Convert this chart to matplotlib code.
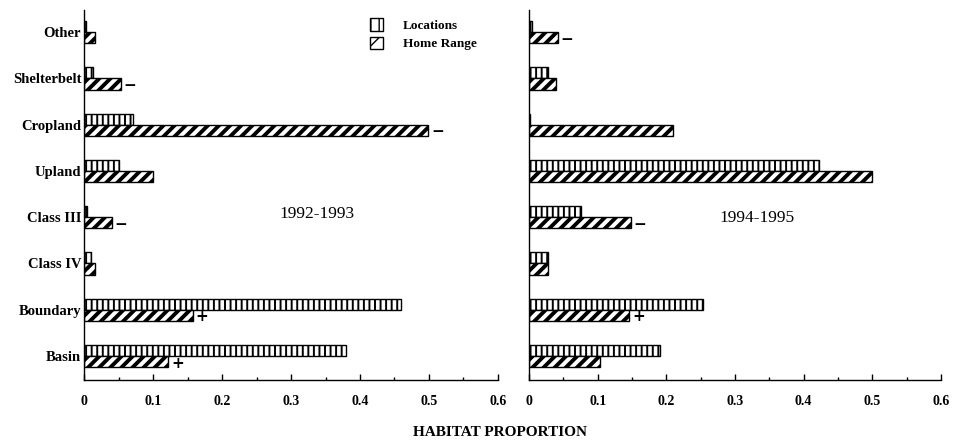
import matplotlib
matplotlib.use("Agg")
import matplotlib.pyplot as plt
from matplotlib.ticker import MultipleLocator, FixedLocator
from matplotlib.patches import Patch

categories = ["Other", "Shelterbelt", "Cropland", "Upland", "Class III", "Class IV", "Boundary", "Basin"]
loc_9293 = [0.003, 0.013, 0.071, 0.050, 0.005, 0.010, 0.460, 0.380]
hr_9293 = [0.016, 0.053, 0.499, 0.100, 0.040, 0.016, 0.158, 0.122]
loc_9495 = [0.005, 0.027, 0.002, 0.423, 0.075, 0.027, 0.254, 0.191]
hr_9495 = [0.042, 0.040, 0.209, 0.499, 0.148, 0.027, 0.146, 0.104]
sig_9293 = ["", "\u2212", "\u2212", "", "\u2212", "", "+", "+"]
sig_9495 = ["\u2212", "", "", "", "\u2212", "", "+", ""]
xticks = [0, 0.1, 0.2, 0.3, 0.4, 0.5, 0.6]
xticklabels = ["0", "0.1", "0.2", "0.3", "0.4", "0.5", "0.6"]
periods = ["1992-1993", "1994-1995"]
series_names = ["Locations", "Home Range"]

plt.rcParams["font.family"] = ["Liberation Serif", "DejaVu Serif"]
plt.rcParams["hatch.color"] = "black"

fig = plt.figure(figsize=(9.57, 4.43), dpi=100)
bottom = 1 - 380 / 443
height = (380 - 10) / 443
ax1 = fig.add_axes([84 / 957, bottom, 414 / 957, height])
ax2 = fig.add_axes([529 / 957, bottom, 412 / 957, height])

n = len(categories)
ypos = [n - 1 - i for i in range(n)]
bh = 0.24
LOC_HATCH = "|||"
HR_HATCH = "///"

def draw(ax, loc, hr, sig, label, lx, ly, show_y):
    with plt.rc_context({"hatch.linewidth": 1.4}):
        ax.barh(ypos, loc, height=bh, align="edge", color="white",
                edgecolor="black", linewidth=1.0, hatch=LOC_HATCH)
    with plt.rc_context({"hatch.linewidth": 2.8}):
        ax.barh([y - bh for y in ypos], hr, height=bh, align="edge", color="white",
                edgecolor="black", linewidth=1.0, hatch=HR_HATCH)
    for y, v, s in zip(ypos, hr, sig):
        if s:
            ax.annotate(s, xy=(v, y - bh / 2), xytext=(2, 0),
                        textcoords="offset points", ha="left", va="center_baseline",
                        fontsize=11, fontweight="bold", family="DejaVu Sans", zorder=5)
    ax.set_xlim(0, 0.6)
    ax.set_ylim(-0.52, 7.48)
    ax.xaxis.set_major_locator(FixedLocator(xticks))
    ax.set_xticklabels(xticklabels, fontsize=10, fontweight="bold")
    ax.xaxis.set_minor_locator(MultipleLocator(0.05))
    ax.tick_params(axis="x", which="major", direction="in", length=4, width=1, pad=11)
    ax.tick_params(axis="x", which="minor", direction="in", length=2.5, width=1)
    ax.set_yticks(ypos)
    if show_y:
        ax.set_yticklabels(categories, fontsize=10.5, fontweight="bold")
    else:
        ax.set_yticklabels([])
    ax.tick_params(axis="y", length=0, pad=2)
    for sp in ["top", "right"]:
        ax.spines[sp].set_visible(False)
    ax.spines["left"].set_linewidth(1.0)
    ax.spines["bottom"].set_linewidth(1.0)
    ax.text(lx, ly, label, fontsize=12.5, ha="center", va="center", transform=ax.transData)

draw(ax1, loc_9293, hr_9293, sig_9293, periods[0], 0.337, 3.07, True)
draw(ax2, loc_9495, hr_9495, sig_9495, periods[1], 0.332, 2.98, False)

with plt.rc_context({"hatch.linewidth": 1.4}):
    h1 = Patch(facecolor="white", edgecolor="black", hatch="||", label=series_names[0])
with plt.rc_context({"hatch.linewidth": 2.8}):
    h2 = Patch(facecolor="white", edgecolor="black", hatch="//", label=series_names[1])
leg = ax1.legend(handles=[h1, h2], loc="upper left", bbox_to_anchor=(0.69, 0.978),
                 frameon=False, prop={"size": 9.5, "weight": "bold"},
                 borderpad=0, borderaxespad=0,
                 handlelength=1.0, handleheight=1.1, handletextpad=1.5, labelspacing=0.35)

fig.text(500 / 957, 1 - 433 / 443, "HABITAT PROPORTION", ha="center", va="center",
         fontsize=11, fontweight="bold")

fig.savefig("out.png", dpi=100)
